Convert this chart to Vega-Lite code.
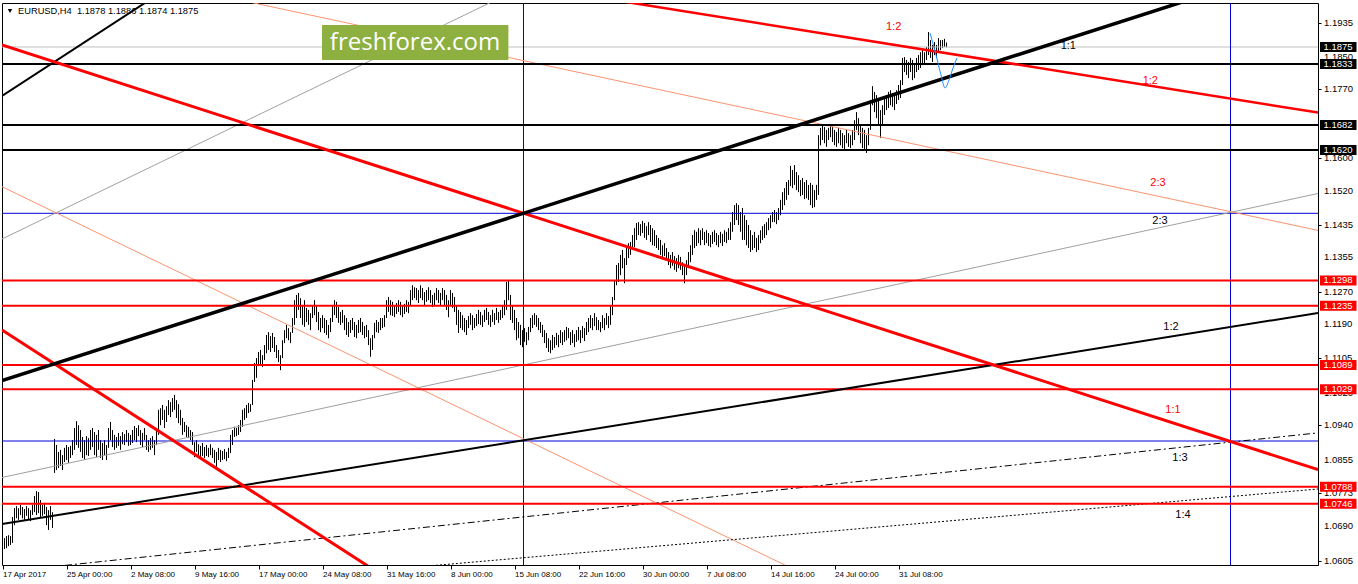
{
"$schema":"https://vega.github.io/schema/vega-lite/v6.json",
"width":1316,"height":562,
"autosize":{"type":"none"},
"padding":{"left":2,"top":3,"right":40,"bottom":19},
"background":"#ffffff",
"config":{"view":{"stroke":"#000000","strokeWidth":1},"font":"Liberation Sans","text":{"font":"Liberation Sans"},
 "axis":{"labelFont":"Liberation Sans","labelColor":"#000000","tickColor":"#000000","domain":false,"grid":false,"zindex":1,"labelOverlap":false}},
"datasets":{
"bars":[
{"i":0,"h":1.0676,"l":1.0636},{"i":1,"h":1.0661,"l":1.0634},{"i":2,"h":1.0666,"l":1.0636},{"i":3,"h":1.0668,"l":1.0641},{"i":4,"h":1.0666,"l":1.0644},{"i":5,"h":1.0713,"l":1.0649},{"i":6,"h":1.0735,"l":1.0693},{"i":7,"h":1.074,"l":1.071},{"i":8,"h":1.0735,"l":1.0706},{"i":9,"h":1.0743,"l":1.0718},
{"i":10,"h":1.0738,"l":1.071},{"i":11,"h":1.0733,"l":1.0706},{"i":12,"h":1.074,"l":1.0716},{"i":13,"h":1.0735,"l":1.0708},{"i":14,"h":1.073,"l":1.0703},{"i":15,"h":1.0743,"l":1.0718},{"i":16,"h":1.0765,"l":1.0725},{"i":17,"h":1.0777,"l":1.0718},{"i":18,"h":1.0775,"l":1.0723},{"i":19,"h":1.0755,"l":1.0713},
{"i":20,"h":1.0743,"l":1.0716},{"i":21,"h":1.0748,"l":1.072},{"i":22,"h":1.0738,"l":1.0693},{"i":23,"h":1.073,"l":1.0681},{"i":24,"h":1.074,"l":1.0706},{"i":25,"h":1.0725,"l":1.0686},{"i":26,"h":1.0906,"l":1.0822},{"i":27,"h":1.0891,"l":1.0829},{"i":28,"h":1.0874,"l":1.0834},{"i":29,"h":1.0879,"l":1.0839},
{"i":30,"h":1.0866,"l":1.0829},{"i":31,"h":1.0884,"l":1.0849},{"i":32,"h":1.0891,"l":1.0854},{"i":33,"h":1.0886,"l":1.0847},{"i":34,"h":1.0889,"l":1.0859},{"i":35,"h":1.0903,"l":1.0866},{"i":36,"h":1.0933,"l":1.0879},{"i":37,"h":1.095,"l":1.0891},{"i":38,"h":1.094,"l":1.0884},{"i":39,"h":1.0928,"l":1.0874},
{"i":40,"h":1.0911,"l":1.0859},{"i":41,"h":1.0903,"l":1.0854},{"i":42,"h":1.0913,"l":1.0866},{"i":43,"h":1.0908,"l":1.0864},{"i":44,"h":1.0928,"l":1.0879},{"i":45,"h":1.0933,"l":1.0886},{"i":46,"h":1.0923,"l":1.0866},{"i":47,"h":1.0916,"l":1.0861},{"i":48,"h":1.0928,"l":1.0879},{"i":49,"h":1.0903,"l":1.0859},
{"i":50,"h":1.0896,"l":1.0854},{"i":51,"h":1.0903,"l":1.0866},{"i":52,"h":1.0891,"l":1.0854},{"i":53,"h":1.0933,"l":1.0884},{"i":54,"h":1.0948,"l":1.0903},{"i":55,"h":1.0928,"l":1.0886},{"i":56,"h":1.0916,"l":1.0879},{"i":57,"h":1.0911,"l":1.0884},{"i":58,"h":1.0921,"l":1.0889},{"i":59,"h":1.0913,"l":1.0879},
{"i":60,"h":1.0923,"l":1.0893},{"i":61,"h":1.0918,"l":1.0891},{"i":62,"h":1.0928,"l":1.0898},{"i":63,"h":1.0921,"l":1.0889},{"i":64,"h":1.0916,"l":1.0891},{"i":65,"h":1.0928,"l":1.0896},{"i":66,"h":1.0938,"l":1.0903},{"i":67,"h":1.0933,"l":1.0898},{"i":68,"h":1.094,"l":1.0913},{"i":69,"h":1.0928,"l":1.0891},
{"i":70,"h":1.0921,"l":1.0886},{"i":71,"h":1.0933,"l":1.0903},{"i":72,"h":1.0916,"l":1.0879},{"i":73,"h":1.0903,"l":1.0874},{"i":74,"h":1.0908,"l":1.0879},{"i":75,"h":1.0913,"l":1.0884},{"i":76,"h":1.0903,"l":1.0866},{"i":77,"h":1.0928,"l":1.0891},{"i":78,"h":1.0978,"l":1.0916},{"i":79,"h":1.0982,"l":1.094},
{"i":80,"h":1.099,"l":1.0953},{"i":81,"h":1.0978,"l":1.0933},{"i":82,"h":1.0987,"l":1.0948},{"i":83,"h":1.1002,"l":1.0965},{"i":84,"h":1.0997,"l":1.096},{"i":85,"h":1.1007,"l":1.0973},{"i":86,"h":1.1015,"l":1.0978},{"i":87,"h":1.1002,"l":1.0958},{"i":88,"h":1.0992,"l":1.0945},{"i":89,"h":1.0978,"l":1.094},
{"i":90,"h":1.0958,"l":1.0916},{"i":91,"h":1.0948,"l":1.0923},{"i":92,"h":1.094,"l":1.0911},{"i":93,"h":1.0936,"l":1.0908},{"i":94,"h":1.0928,"l":1.0903},{"i":95,"h":1.0923,"l":1.0891},{"i":96,"h":1.0898,"l":1.0861},{"i":97,"h":1.0903,"l":1.0874},{"i":98,"h":1.0893,"l":1.0866},{"i":99,"h":1.0889,"l":1.0859},
{"i":100,"h":1.0896,"l":1.0864},{"i":101,"h":1.0886,"l":1.0859},{"i":102,"h":1.0891,"l":1.0864},{"i":103,"h":1.0884,"l":1.0861},{"i":104,"h":1.0893,"l":1.0866},{"i":105,"h":1.0884,"l":1.0859},{"i":106,"h":1.0879,"l":1.0847},{"i":107,"h":1.0874,"l":1.0837},{"i":108,"h":1.0884,"l":1.0854},{"i":109,"h":1.0879,"l":1.0849},
{"i":110,"h":1.0876,"l":1.0854},{"i":111,"h":1.0881,"l":1.0856},{"i":112,"h":1.0874,"l":1.0851},{"i":113,"h":1.0884,"l":1.0859},{"i":114,"h":1.0916,"l":1.0871},{"i":115,"h":1.0928,"l":1.0891},{"i":116,"h":1.0936,"l":1.0911},{"i":117,"h":1.0933,"l":1.0913},{"i":118,"h":1.094,"l":1.0916},{"i":119,"h":1.0953,"l":1.0923},
{"i":120,"h":1.0978,"l":1.0936},{"i":121,"h":1.0982,"l":1.0953},{"i":122,"h":1.099,"l":1.0958},{"i":123,"h":1.0995,"l":1.097},{"i":124,"h":1.0992,"l":1.0973},{"i":125,"h":1.1052,"l":1.099},{"i":126,"h":1.1094,"l":1.1047},{"i":127,"h":1.1106,"l":1.1057},{"i":128,"h":1.1121,"l":1.1086},{"i":129,"h":1.1126,"l":1.1089},
{"i":130,"h":1.1113,"l":1.1084},{"i":131,"h":1.1138,"l":1.1101},{"i":132,"h":1.1163,"l":1.1118},{"i":133,"h":1.117,"l":1.1126},{"i":134,"h":1.116,"l":1.1121},{"i":135,"h":1.1168,"l":1.1131},{"i":136,"h":1.1158,"l":1.1121},{"i":137,"h":1.1138,"l":1.1106},{"i":138,"h":1.1126,"l":1.1096},{"i":139,"h":1.1113,"l":1.1076},
{"i":140,"h":1.115,"l":1.1106},{"i":141,"h":1.1175,"l":1.1143},{"i":142,"h":1.1188,"l":1.1155},{"i":143,"h":1.118,"l":1.115},{"i":144,"h":1.117,"l":1.1143},{"i":145,"h":1.1205,"l":1.1168},{"i":146,"h":1.1249,"l":1.1188},{"i":147,"h":1.1262,"l":1.1205},{"i":148,"h":1.1267,"l":1.1225},{"i":149,"h":1.1254,"l":1.1205},
{"i":150,"h":1.1237,"l":1.1188},{"i":151,"h":1.1249,"l":1.1183},{"i":152,"h":1.123,"l":1.1195},{"i":153,"h":1.1225,"l":1.1188},{"i":154,"h":1.1217,"l":1.1175},{"i":155,"h":1.1237,"l":1.1205},{"i":156,"h":1.1249,"l":1.1212},{"i":157,"h":1.1235,"l":1.1195},{"i":158,"h":1.122,"l":1.1175},{"i":159,"h":1.1205,"l":1.117},
{"i":160,"h":1.1212,"l":1.118},{"i":161,"h":1.1205,"l":1.1168},{"i":162,"h":1.12,"l":1.1163},{"i":163,"h":1.1188,"l":1.1155},{"i":164,"h":1.1205,"l":1.117},{"i":165,"h":1.1237,"l":1.1195},{"i":166,"h":1.1249,"l":1.1212},{"i":167,"h":1.1245,"l":1.1205},{"i":168,"h":1.1232,"l":1.1193},{"i":169,"h":1.122,"l":1.1188},
{"i":170,"h":1.1225,"l":1.1193},{"i":171,"h":1.1212,"l":1.1175},{"i":172,"h":1.1205,"l":1.1163},{"i":173,"h":1.1195,"l":1.1158},{"i":174,"h":1.12,"l":1.1168},{"i":175,"h":1.1205,"l":1.1175},{"i":176,"h":1.1195,"l":1.1158},{"i":177,"h":1.1188,"l":1.1155},{"i":178,"h":1.12,"l":1.1168},{"i":179,"h":1.1205,"l":1.117},
{"i":180,"h":1.1195,"l":1.1163},{"i":181,"h":1.1185,"l":1.1155},{"i":182,"h":1.1188,"l":1.1158},{"i":183,"h":1.1175,"l":1.1138},{"i":184,"h":1.1155,"l":1.1109},{"i":185,"h":1.1163,"l":1.1126},{"i":186,"h":1.1193,"l":1.1155},{"i":187,"h":1.12,"l":1.117},{"i":188,"h":1.1195,"l":1.1168},{"i":189,"h":1.1205,"l":1.1175},
{"i":190,"h":1.1205,"l":1.118},{"i":191,"h":1.1212,"l":1.1183},{"i":192,"h":1.1249,"l":1.1205},{"i":193,"h":1.1257,"l":1.122},{"i":194,"h":1.1249,"l":1.1212},{"i":195,"h":1.1245,"l":1.121},{"i":196,"h":1.1237,"l":1.1207},{"i":197,"h":1.1242,"l":1.1215},{"i":198,"h":1.1249,"l":1.122},{"i":199,"h":1.1245,"l":1.1212},
{"i":200,"h":1.1235,"l":1.1207},{"i":201,"h":1.124,"l":1.1215},{"i":202,"h":1.1249,"l":1.122},{"i":203,"h":1.1245,"l":1.1217},{"i":204,"h":1.1274,"l":1.1237},{"i":205,"h":1.1286,"l":1.1249},{"i":206,"h":1.1281,"l":1.1254},{"i":207,"h":1.1279,"l":1.1249},{"i":208,"h":1.1274,"l":1.1242},{"i":209,"h":1.1286,"l":1.1254},
{"i":210,"h":1.1279,"l":1.1249},{"i":211,"h":1.1269,"l":1.1237},{"i":212,"h":1.1274,"l":1.1245},{"i":213,"h":1.1281,"l":1.1249},{"i":214,"h":1.1274,"l":1.1242},{"i":215,"h":1.1262,"l":1.1232},{"i":216,"h":1.1267,"l":1.1237},{"i":217,"h":1.1279,"l":1.1249},{"i":218,"h":1.1274,"l":1.1242},{"i":219,"h":1.1267,"l":1.1235},
{"i":220,"h":1.1279,"l":1.1249},{"i":221,"h":1.1274,"l":1.1237},{"i":222,"h":1.1262,"l":1.1225},{"i":223,"h":1.1249,"l":1.1207},{"i":224,"h":1.1274,"l":1.1237},{"i":225,"h":1.1267,"l":1.123},{"i":226,"h":1.1257,"l":1.122},{"i":227,"h":1.1237,"l":1.1188},{"i":228,"h":1.1225,"l":1.1168},{"i":229,"h":1.122,"l":1.118},
{"i":230,"h":1.1212,"l":1.1175},{"i":231,"h":1.1205,"l":1.117},{"i":232,"h":1.12,"l":1.1163},{"i":233,"h":1.121,"l":1.118},{"i":234,"h":1.1217,"l":1.1188},{"i":235,"h":1.1212,"l":1.1175},{"i":236,"h":1.1205,"l":1.118},{"i":237,"h":1.1215,"l":1.1185},{"i":238,"h":1.1225,"l":1.119},{"i":239,"h":1.122,"l":1.1188},
{"i":240,"h":1.1212,"l":1.1183},{"i":241,"h":1.1225,"l":1.1195},{"i":242,"h":1.123,"l":1.12},{"i":243,"h":1.122,"l":1.1188},{"i":244,"h":1.1212,"l":1.1183},{"i":245,"h":1.1225,"l":1.1195},{"i":246,"h":1.1217,"l":1.1188},{"i":247,"h":1.123,"l":1.12},{"i":248,"h":1.122,"l":1.1193},{"i":249,"h":1.1225,"l":1.12},
{"i":250,"h":1.1237,"l":1.1205},{"i":251,"h":1.1249,"l":1.1212},{"i":252,"h":1.1294,"l":1.1225},{"i":253,"h":1.1299,"l":1.1249},{"i":254,"h":1.1262,"l":1.12},{"i":255,"h":1.1237,"l":1.1193},{"i":256,"h":1.1225,"l":1.1175},{"i":257,"h":1.1205,"l":1.115},{"i":258,"h":1.1195,"l":1.1155},{"i":259,"h":1.1188,"l":1.1138},
{"i":260,"h":1.1175,"l":1.1133},{"i":261,"h":1.118,"l":1.1146},{"i":262,"h":1.117,"l":1.1138},{"i":263,"h":1.1183,"l":1.115},{"i":264,"h":1.1205,"l":1.117},{"i":265,"h":1.1212,"l":1.118},{"i":266,"h":1.1217,"l":1.1188},{"i":267,"h":1.1212,"l":1.1183},{"i":268,"h":1.1205,"l":1.1175},{"i":269,"h":1.1195,"l":1.1168},
{"i":270,"h":1.1188,"l":1.1158},{"i":271,"h":1.1175,"l":1.1143},{"i":272,"h":1.1168,"l":1.1131},{"i":273,"h":1.1155,"l":1.1121},{"i":274,"h":1.115,"l":1.1118},{"i":275,"h":1.1163,"l":1.1126},{"i":276,"h":1.1158,"l":1.1131},{"i":277,"h":1.1168,"l":1.1138},{"i":278,"h":1.1163,"l":1.1133},{"i":279,"h":1.1175,"l":1.1143},
{"i":280,"h":1.117,"l":1.1138},{"i":281,"h":1.1175,"l":1.1146},{"i":282,"h":1.1183,"l":1.115},{"i":283,"h":1.118,"l":1.1155},{"i":284,"h":1.117,"l":1.1138},{"i":285,"h":1.1175,"l":1.1143},{"i":286,"h":1.1165,"l":1.1133},{"i":287,"h":1.1175,"l":1.1146},{"i":288,"h":1.1183,"l":1.115},{"i":289,"h":1.1175,"l":1.1143},
{"i":290,"h":1.1185,"l":1.1155},{"i":291,"h":1.118,"l":1.1148},{"i":292,"h":1.1195,"l":1.1163},{"i":293,"h":1.1205,"l":1.117},{"i":294,"h":1.1212,"l":1.118},{"i":295,"h":1.1205,"l":1.1175},{"i":296,"h":1.1217,"l":1.1185},{"i":297,"h":1.1207,"l":1.1175},{"i":298,"h":1.12,"l":1.1175},{"i":299,"h":1.1195,"l":1.117},
{"i":300,"h":1.1212,"l":1.118},{"i":301,"h":1.1205,"l":1.1175},{"i":302,"h":1.1217,"l":1.1188},{"i":303,"h":1.121,"l":1.118},{"i":304,"h":1.1237,"l":1.1188},{"i":305,"h":1.1257,"l":1.1212},{"i":306,"h":1.1299,"l":1.1249},{"i":307,"h":1.1336,"l":1.1286},{"i":308,"h":1.1341,"l":1.1294},{"i":309,"h":1.1361,"l":1.1311},
{"i":310,"h":1.1373,"l":1.1328},{"i":311,"h":1.1353,"l":1.1291},{"i":312,"h":1.1385,"l":1.1336},{"i":313,"h":1.139,"l":1.1353},{"i":314,"h":1.1393,"l":1.1361},{"i":315,"h":1.141,"l":1.1373},{"i":316,"h":1.1427,"l":1.138},{"i":317,"h":1.144,"l":1.1398},{"i":318,"h":1.1442,"l":1.141},{"i":319,"h":1.1437,"l":1.1408},
{"i":320,"h":1.1445,"l":1.1415},{"i":321,"h":1.144,"l":1.1403},{"i":322,"h":1.1432,"l":1.1398},{"i":323,"h":1.1442,"l":1.141},{"i":324,"h":1.1435,"l":1.1393},{"i":325,"h":1.1427,"l":1.1385},{"i":326,"h":1.1422,"l":1.1383},{"i":327,"h":1.141,"l":1.1378},{"i":328,"h":1.1403,"l":1.1373},{"i":329,"h":1.1398,"l":1.1361},
{"i":330,"h":1.1385,"l":1.1353},{"i":331,"h":1.139,"l":1.1358},{"i":332,"h":1.1378,"l":1.1348},{"i":333,"h":1.1368,"l":1.1336},{"i":334,"h":1.1361,"l":1.1328},{"i":335,"h":1.1368,"l":1.1334},{"i":336,"h":1.1358,"l":1.1324},{"i":337,"h":1.1353,"l":1.1319},{"i":338,"h":1.1361,"l":1.1328},{"i":339,"h":1.1356,"l":1.1324},
{"i":340,"h":1.1343,"l":1.1311},{"i":341,"h":1.1336,"l":1.1291},{"i":342,"h":1.1348,"l":1.1311},{"i":343,"h":1.1368,"l":1.1328},{"i":344,"h":1.1385,"l":1.1343},{"i":345,"h":1.141,"l":1.1361},{"i":346,"h":1.1422,"l":1.1378},{"i":347,"h":1.1418,"l":1.1383},{"i":348,"h":1.1427,"l":1.139},{"i":349,"h":1.1422,"l":1.1385},
{"i":350,"h":1.1427,"l":1.1398},{"i":351,"h":1.1418,"l":1.1385},{"i":352,"h":1.1422,"l":1.139},{"i":353,"h":1.1415,"l":1.1383},{"i":354,"h":1.141,"l":1.138},{"i":355,"h":1.1418,"l":1.1388},{"i":356,"h":1.1422,"l":1.1393},{"i":357,"h":1.1415,"l":1.1385},{"i":358,"h":1.141,"l":1.138},{"i":359,"h":1.1418,"l":1.139},
{"i":360,"h":1.1413,"l":1.1383},{"i":361,"h":1.1422,"l":1.1393},{"i":362,"h":1.1418,"l":1.139},{"i":363,"h":1.1427,"l":1.1398},{"i":364,"h":1.1442,"l":1.1398},{"i":365,"h":1.1467,"l":1.1418},{"i":366,"h":1.1484,"l":1.1435},{"i":367,"h":1.1489,"l":1.1447},{"i":368,"h":1.1484,"l":1.1435},{"i":369,"h":1.1467,"l":1.1418},
{"i":370,"h":1.1477,"l":1.1398},{"i":371,"h":1.1459,"l":1.1398},{"i":372,"h":1.1447,"l":1.1385},{"i":373,"h":1.1435,"l":1.1378},{"i":374,"h":1.1422,"l":1.1368},{"i":375,"h":1.141,"l":1.1373},{"i":376,"h":1.1418,"l":1.1378},{"i":377,"h":1.1403,"l":1.1368},{"i":378,"h":1.141,"l":1.1373},{"i":379,"h":1.1422,"l":1.139},
{"i":380,"h":1.1432,"l":1.1398},{"i":381,"h":1.1437,"l":1.1403},{"i":382,"h":1.1442,"l":1.141},{"i":383,"h":1.1452,"l":1.1422},{"i":384,"h":1.1459,"l":1.1427},{"i":385,"h":1.1467,"l":1.1442},{"i":386,"h":1.1472,"l":1.1442},{"i":387,"h":1.1467,"l":1.1437},{"i":388,"h":1.1477,"l":1.1447},{"i":389,"h":1.1497,"l":1.1459},
{"i":390,"h":1.1516,"l":1.1472},{"i":391,"h":1.1526,"l":1.1484},{"i":392,"h":1.1541,"l":1.1497},{"i":393,"h":1.1546,"l":1.1509},{"i":394,"h":1.1581,"l":1.1531},{"i":395,"h":1.1571,"l":1.1526},{"i":396,"h":1.1583,"l":1.1534},{"i":397,"h":1.1566,"l":1.1521},{"i":398,"h":1.1558,"l":1.1516},{"i":399,"h":1.1546,"l":1.1506},
{"i":400,"h":1.1551,"l":1.1509},{"i":401,"h":1.1541,"l":1.1499},{"i":402,"h":1.1546,"l":1.1501},{"i":403,"h":1.1534,"l":1.1497},{"i":404,"h":1.1539,"l":1.1484},{"i":405,"h":1.1534,"l":1.1477},{"i":406,"h":1.1521,"l":1.1479},{"i":407,"h":1.1534,"l":1.1497},{"i":408,"h":1.1657,"l":1.1509},{"i":409,"h":1.1675,"l":1.1632},
{"i":410,"h":1.1682,"l":1.1645},{"i":411,"h":1.1677,"l":1.1637},{"i":412,"h":1.167,"l":1.1628},{"i":413,"h":1.1675,"l":1.1645},{"i":414,"h":1.1682,"l":1.1652},{"i":415,"h":1.1677,"l":1.164},{"i":416,"h":1.167,"l":1.1632},{"i":417,"h":1.1665,"l":1.1628},{"i":418,"h":1.1675,"l":1.1637},{"i":419,"h":1.167,"l":1.1632},
{"i":420,"h":1.1662,"l":1.1625},{"i":421,"h":1.1657,"l":1.162},{"i":422,"h":1.167,"l":1.1637},{"i":423,"h":1.1662,"l":1.1628},{"i":424,"h":1.1657,"l":1.1625},{"i":425,"h":1.167,"l":1.1632},{"i":426,"h":1.1694,"l":1.1645},{"i":427,"h":1.1714,"l":1.167},{"i":428,"h":1.1699,"l":1.1657},{"i":429,"h":1.1682,"l":1.1637},
{"i":430,"h":1.1675,"l":1.1625},{"i":431,"h":1.167,"l":1.162},{"i":432,"h":1.1657,"l":1.1613},{"i":433,"h":1.1675,"l":1.1632},{"i":434,"h":1.1744,"l":1.167},{"i":435,"h":1.1778,"l":1.1731},{"i":436,"h":1.1764,"l":1.1714},{"i":437,"h":1.1756,"l":1.1699},{"i":438,"h":1.1744,"l":1.1682},{"i":439,"h":1.1719,"l":1.165},
{"i":440,"h":1.1731,"l":1.1682},{"i":441,"h":1.1749,"l":1.1707},{"i":442,"h":1.1756,"l":1.1719},{"i":443,"h":1.1764,"l":1.1724},{"i":444,"h":1.1768,"l":1.1731},{"i":445,"h":1.1761,"l":1.1727},{"i":446,"h":1.1756,"l":1.1719},{"i":447,"h":1.1768,"l":1.1734},{"i":448,"h":1.1781,"l":1.1744},{"i":449,"h":1.1793,"l":1.1749},
{"i":450,"h":1.1848,"l":1.1781},{"i":451,"h":1.185,"l":1.1813},{"i":452,"h":1.1843,"l":1.1806},{"i":453,"h":1.1838,"l":1.1798},{"i":454,"h":1.1848,"l":1.1813},{"i":455,"h":1.1843,"l":1.1793},{"i":456,"h":1.1835,"l":1.1798},{"i":457,"h":1.1848,"l":1.1813},{"i":458,"h":1.1855,"l":1.1818},{"i":459,"h":1.1862,"l":1.1823},
{"i":460,"h":1.1867,"l":1.183},{"i":461,"h":1.1862,"l":1.1835},{"i":462,"h":1.1875,"l":1.1843},{"i":463,"h":1.1912,"l":1.1855},{"i":464,"h":1.1892,"l":1.1848},{"i":465,"h":1.188,"l":1.1838},{"i":466,"h":1.1887,"l":1.1855},{"i":467,"h":1.188,"l":1.1848},{"i":468,"h":1.1897,"l":1.1862},{"i":469,"h":1.1892,"l":1.1867},
{"i":470,"h":1.1892,"l":1.1872},{"i":471,"h":1.1895,"l":1.1875},{"i":472,"h":1.1886,"l":1.1874}
],
"hBlack":[{"p":1.1833},{"p":1.1682},{"p":1.162}],
"hRed":[{"p":1.1298},{"p":1.1235},{"p":1.1089},{"p":1.1029},{"p":1.0788},{"p":1.0746}],
"hGray":[{"p":1.1875}],
"hBlue":[{"p":1.14638},{"p":1.09009}],
"vBlue":[{"i":260.5},{"i":614}],
"segBlackThick":[{"i1":-0.25,"p1":1.10503,"i2":598.75,"p2":1.20002}],
"segBlackMed":[{"i1":-0.25,"p1":1.17538,"i2":75.75,"p2":1.19985},{"i1":-0.25,"p1":1.06958,"i2":657.75,"p2":1.12174}],
"segRedThick":[{"i1":-0.25,"p1":1.18799,"i2":657.75,"p2":1.083},{"i1":-0.25,"p1":1.11752,"i2":183.75,"p2":1.05885}],
"segRedMed":[{"i1":296.25,"p1":1.19985,"i2":657.75,"p2":1.17128}],
"segSalmon":[{"i1":111.65,"p1":1.19985,"i2":657.75,"p2":1.14216},{"i1":-0.25,"p1":1.15296,"i2":393.75,"p2":1.05882}],
"segGray":[{"i1":-0.25,"p1":1.14003,"i2":249.65,"p2":1.19985},{"i1":-0.25,"p1":1.08107,"i2":657.75,"p2":1.15128}],
"segDashDot":[{"i1":23.75,"p1":1.05895,"i2":657.75,"p2":1.0921}],
"segDotted":[{"i1":208.75,"p1":1.05902,"i2":657.75,"p2":1.07823}],
"wave":[{"i":463.75,"p":1.19095},{"i":466.75,"p":1.18551},{"i":469.25,"p":1.18057},{"i":471.25,"p":1.17736},{"i":473.25,"p":1.17933},{"i":475.25,"p":1.1823},{"i":477.25,"p":1.18477}],
"lblRed":[{"i":445.6,"p":1.19251,"t":"1:2"},{"i":573.9,"p":1.17916,"t":"1:2"},{"i":577.75,"p":1.15375,"t":"2:3"},{"i":585.25,"p":1.09776,"t":"1:1"}],
"lblBlack":[{"i":532.9,"p":1.18774,"t":"1:1"},{"i":578.75,"p":1.14448,"t":"2:3"},{"i":584.25,"p":1.11835,"t":"1:2"},{"i":588.75,"p":1.08589,"t":"1:3"},{"i":590.25,"p":1.0718,"t":"1:4"}],
"header":[{"i":7.75,"p":1.19639,"t":"EURUSD,H4\u00a0 1.1878 1.1886 1.1874 1.1875"}],
"tri":[{"i":3.75,"p":1.19639}],
"logoBox":[{"i1":159.75,"i2":252.95,"p1":1.19293,"p2":1.18428}],
"logoText":[{"i":206.25,"p":1.1886,"t":"freshforex.com"}],
"yTicks":[{"p":1.0605},{"p":1.069},{"p":1.0773},{"p":1.0855},{"p":1.094},{"p":1.102},{"p":1.1105},{"p":1.119},{"p":1.127},{"p":1.1355},{"p":1.1435},{"p":1.152},{"p":1.16},{"p":1.177},{"p":1.185},{"p":1.1935}],
"tagBlack":[{"p":1.1875},{"p":1.1833},{"p":1.1682},{"p":1.162}],
"tagRed":[{"p":1.1298},{"p":1.1235},{"p":1.1089},{"p":1.1029},{"p":1.0788},{"p":1.0746}]
},
"layer":[
{"data":{"name":"bars"},"mark":{"type":"rule","color":"#000000","strokeWidth":1},
 "encoding":{
  "x":{"field":"i","type":"quantitative","scale":{"domain":[-0.25,657.75],"nice":false,"zero":false},
   "axis":{"orient":"bottom","title":null,"values":[0,32,64,96,128,160,192,224,256,288,320,352,384,416,448],
    "labelExpr":"['17 Apr 2017','25 Apr 00:00','2 May 08:00','9 May 16:00','17 May 00:00','24 May 08:00','31 May 16:00','8 Jun 00:00','15 Jun 08:00','22 Jun 16:00','30 Jun 00:00','7 Jul 08:00','14 Jul 16:00','24 Jul 00:00','31 Jul 08:00'][round(datum.value/32)]",
    "labelAlign":"left","labelBaseline":"top","labelPadding":1,"tickSize":4,"labelFontSize":8,"labelFlush":false,"labelOverlap":false,"labelBound":false}},
  "y":{"field":"l","type":"quantitative","scale":{"domain":[1.05944,1.19837],"nice":false,"zero":false},
   "axis":{"orient":"right","title":null,"values":[1.0605,1.069,1.0773,1.0855,1.094,1.102,1.1105,1.119,1.127,1.1355,1.1435,1.152,1.16,1.1685,1.177,1.185,1.1935],
    "labels":false,"tickSize":3}},
  "y2":{"field":"h"}}},
{"data":{"name":"hGray"},"mark":{"type":"rule","color":"#c0c0c0","strokeWidth":1},
 "encoding":{"y":{"field":"p","type":"quantitative"}}},
{"data":{"name":"hBlue"},"mark":{"type":"rule","color":"#0000dd","strokeWidth":1},
 "encoding":{"y":{"field":"p","type":"quantitative"}}},
{"data":{"name":"vBlue"},"mark":{"type":"rule","color":"#0000dd","strokeWidth":1},
 "encoding":{"x":{"field":"i","type":"quantitative"}}},
{"data":{"name":"segGray"},"mark":{"type":"rule","color":"#a0a0a0","strokeWidth":1,"clip":true},
 "encoding":{"x":{"field":"i1","type":"quantitative"},"x2":{"field":"i2"},"y":{"field":"p1","type":"quantitative"},"y2":{"field":"p2"}}},
{"data":{"name":"segSalmon"},"mark":{"type":"rule","color":"#fa9470","strokeWidth":1,"clip":true},
 "encoding":{"x":{"field":"i1","type":"quantitative"},"x2":{"field":"i2"},"y":{"field":"p1","type":"quantitative"},"y2":{"field":"p2"}}},
{"data":{"name":"segDashDot"},"mark":{"type":"rule","color":"#000000","strokeWidth":1,"strokeDash":[7,3,2,3],"clip":true},
 "encoding":{"x":{"field":"i1","type":"quantitative"},"x2":{"field":"i2"},"y":{"field":"p1","type":"quantitative"},"y2":{"field":"p2"}}},
{"data":{"name":"segDotted"},"mark":{"type":"rule","color":"#000000","strokeWidth":1,"strokeDash":[2,2],"clip":true},
 "encoding":{"x":{"field":"i1","type":"quantitative"},"x2":{"field":"i2"},"y":{"field":"p1","type":"quantitative"},"y2":{"field":"p2"}}},
{"data":{"name":"hBlack"},"mark":{"type":"rule","color":"#000000","strokeWidth":2},
 "encoding":{"y":{"field":"p","type":"quantitative"}}},
{"data":{"name":"hRed"},"mark":{"type":"rule","color":"#ff0000","strokeWidth":2},
 "encoding":{"y":{"field":"p","type":"quantitative"}}},
{"data":{"name":"segBlackMed"},"mark":{"type":"rule","color":"#000000","strokeWidth":2,"clip":true},
 "encoding":{"x":{"field":"i1","type":"quantitative"},"x2":{"field":"i2"},"y":{"field":"p1","type":"quantitative"},"y2":{"field":"p2"}}},
{"data":{"name":"segRedMed"},"mark":{"type":"rule","color":"#ff0000","strokeWidth":2.5,"clip":true},
 "encoding":{"x":{"field":"i1","type":"quantitative"},"x2":{"field":"i2"},"y":{"field":"p1","type":"quantitative"},"y2":{"field":"p2"}}},
{"data":{"name":"segRedThick"},"mark":{"type":"rule","color":"#ff0000","strokeWidth":3,"clip":true},
 "encoding":{"x":{"field":"i1","type":"quantitative"},"x2":{"field":"i2"},"y":{"field":"p1","type":"quantitative"},"y2":{"field":"p2"}}},
{"data":{"name":"segBlackThick"},"mark":{"type":"rule","color":"#000000","strokeWidth":3.5,"clip":true},
 "encoding":{"x":{"field":"i1","type":"quantitative"},"x2":{"field":"i2"},"y":{"field":"p1","type":"quantitative"},"y2":{"field":"p2"}}},
{"data":{"name":"wave"},"mark":{"type":"line","color":"#1e90ff","strokeWidth":1,"interpolate":"monotone"},
 "encoding":{"x":{"field":"i","type":"quantitative"},"y":{"field":"p","type":"quantitative"}}},
{"data":{"name":"lblRed"},"mark":{"type":"text","color":"#ff0000","fontSize":11,"align":"center","baseline":"middle"},
 "encoding":{"x":{"field":"i","type":"quantitative"},"y":{"field":"p","type":"quantitative"},"text":{"field":"t"}}},
{"data":{"name":"lblBlack"},"mark":{"type":"text","color":"#000000","fontSize":11,"align":"center","baseline":"middle"},
 "encoding":{"x":{"field":"i","type":"quantitative"},"y":{"field":"p","type":"quantitative"},"text":{"field":"t"}}},
{"data":{"name":"header"},"mark":{"type":"text","color":"#000000","fontSize":9.3,"align":"left","baseline":"middle"},
 "encoding":{"x":{"field":"i","type":"quantitative"},"y":{"field":"p","type":"quantitative"},"text":{"field":"t"}}},
{"data":{"name":"tri"},"mark":{"type":"point","shape":"triangle-down","filled":true,"color":"#000000","size":20,"opacity":1},
 "encoding":{"x":{"field":"i","type":"quantitative"},"y":{"field":"p","type":"quantitative"}}},
{"data":{"name":"logoBox"},"mark":{"type":"rect","color":"#8db040","opacity":1},
 "encoding":{"x":{"field":"i1","type":"quantitative"},"x2":{"field":"i2"},"y":{"field":"p1","type":"quantitative"},"y2":{"field":"p2"}}},
{"data":{"name":"logoText"},"mark":{"type":"text","color":"#ffffff","fontSize":24,"font":"Open Sans","align":"center","baseline":"middle"},
 "encoding":{"x":{"field":"i","type":"quantitative"},"y":{"field":"p","type":"quantitative"},"text":{"field":"t"}}},
{"data":{"name":"yTicks"},"mark":{"type":"text","color":"#000000","fontSize":9.5,"align":"left","baseline":"middle"},
 "encoding":{"x":{"datum":660.75,"type":"quantitative"},"y":{"field":"p","type":"quantitative"},"text":{"field":"p","format":".4f"}}},
{"data":{"name":"tagBlack"},"mark":{"type":"rect","color":"#000000","height":10},
 "encoding":{"x":{"datum":658.75,"type":"quantitative"},"x2":{"datum":677},"y":{"field":"p","type":"quantitative"}}},
{"data":{"name":"tagRed"},"mark":{"type":"rect","color":"#ff0000","height":10},
 "encoding":{"x":{"datum":658.75,"type":"quantitative"},"x2":{"datum":677},"y":{"field":"p","type":"quantitative"}}},
{"data":{"name":"tagBlack"},"mark":{"type":"text","color":"#ffffff","fontSize":9.5,"align":"left","baseline":"middle"},
 "encoding":{"x":{"datum":660.5,"type":"quantitative"},"y":{"field":"p","type":"quantitative"},"text":{"field":"p","format":".4f"}}},
{"data":{"name":"tagRed"},"mark":{"type":"text","color":"#ffffff","fontSize":9.5,"align":"left","baseline":"middle"},
 "encoding":{"x":{"datum":660.5,"type":"quantitative"},"y":{"field":"p","type":"quantitative"},"text":{"field":"p","format":".4f"}}}
]
}
